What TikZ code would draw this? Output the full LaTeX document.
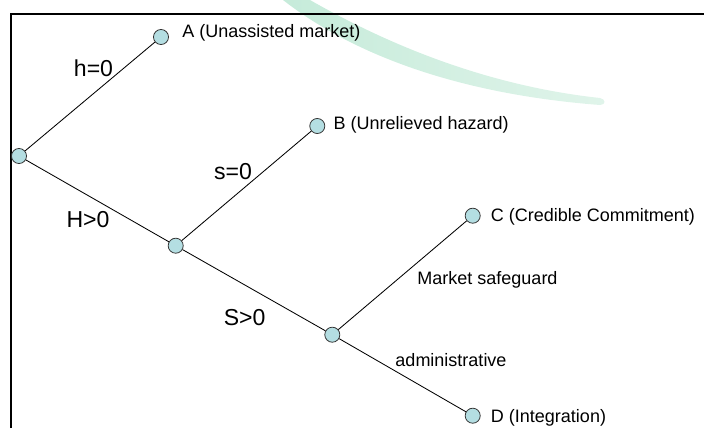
\documentclass[tikz,border=0pt]{standalone}
\usepackage{fontspec}
\setmainfont{Liberation Sans}
\usetikzlibrary{positioning}
\definecolor{stagefill}{RGB}{180,222,226}
\definecolor{swooshleft}{RGB}{198,235,218}
\definecolor{swooshright}{RGB}{224,244,234}
\tikzset{
  stage/.style={circle, draw=black!80, line width=0.55pt, fill=stagefill, minimum size=10.7pt, inner sep=0pt},
  leaflabel/.style={anchor=west, inner sep=0pt, font=\fontsize{12.8}{15}\selectfont},
  branchlabel/.style={inner sep=0pt, font=\fontsize{16.4}{19}\selectfont},
  choicelabel/.style={inner sep=0pt, font=\fontsize{12.8}{15}\selectfont},
  branch/.style={line width=0.6pt}
}

\begin{document}
\begin{tikzpicture}[x=0.025cm, y=-0.025cm]
		%%%%% START %%%%%
		\useasboundingbox (0, 0) rectangle (704, 428);
		
		% background swoosh
		\shade[left color=swooshleft, right color=swooshright] (310, 0) .. controls (380, 40) and (480, 85) .. (600, 98)
			.. controls (606, 99) and (606, 105) .. (600, 105)
			.. controls (470, 95) and (360, 60) .. (283, 0) -- cycle;
		
		% frame
		\draw[line width=1.5pt] (11, 428) -- (11, 14.3) -- (704, 14.3);
		
		% decision points
		\node[stage] (root) at (19, 156) {};
		\node[stage] (hazard) at (175.7, 245.7) {};
		\node[stage] (safeguard) at (332.3, 334.7) {};
		
		% outcomes
		\node[stage] (A) at (161, 37) {};
		\node[stage] (B) at (317.3, 126) {};
		\node[stage] (C) at (472.7, 215.7) {};
		\node[stage] (D) at (472.7, 415.7) {};
		
		\draw[branch] (root) -- (A);
		\draw[branch] (root) -- (hazard);
		\draw[branch] (hazard) -- (B);
		\draw[branch] (hazard) -- (safeguard);
		\draw[branch] (safeguard) -- (C);
		\draw[branch] (safeguard) -- (D);
		
		\node[leaflabel] (Atext) at (182, 32.5) {A (Unassisted market)};
		\node[leaflabel] (Btext) at (333.3, 125.3) {B (Unrelieved hazard)};
		\node[leaflabel] (Ctext) at (490.7, 216.8) {C (Credible Commitment)};
		\node[leaflabel] (Dtext) at (490.7, 418.2) {D (Integration)};
		
		\node[branchlabel] (hzero) at (93.5, 68.5) {h=0};
		\node[branchlabel] (Hpos) at (88, 220) {H>0};
		\node[branchlabel] (szero) at (233, 171.5) {s=0};
		\node[branchlabel] (Spos) at (244.7, 318) {S>0};
		
		\node[choicelabel] (market) at (487.5, 279.4) {Market safeguard};
		\node[choicelabel] (admin) at (451, 360) {administrative};
		
		%%%%% END %%%%%
	\end{tikzpicture}
\end{document}
